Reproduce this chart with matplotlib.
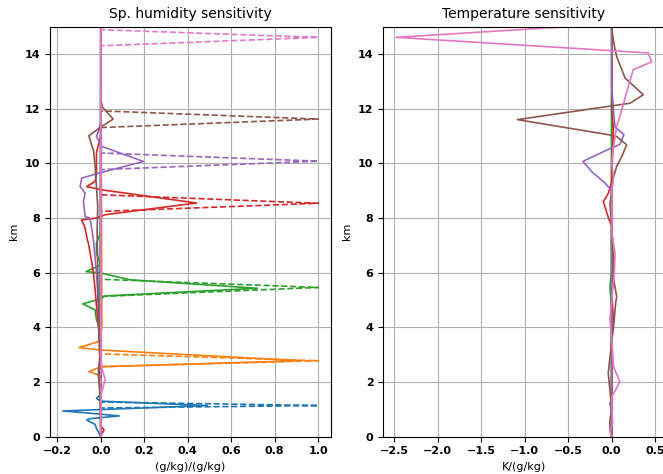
import matplotlib
matplotlib.use("Agg")
import matplotlib.pyplot as plt

# perturbation heights (km): level below, peak level, level above
pert_levels = [
    [1.05, 1.14, 1.27],
    [2.56, 2.78, 3.03],
    [5.13, 5.46, 5.76],
    [8.24, 8.54, 8.85],
    [9.77, 10.08, 10.38],
    [11.31, 11.62, 11.92],
    [14.30, 14.61, 14.89],
]

# humidity response, (g/kg)/(g/kg)
q_z = [
    [0, 0.3, 0.45, 0.61, 0.66, 0.76, 0.86, 0.94, 1.14, 1.30, 1.40, 1.52, 15.1],
    [0, 2.1, 2.26, 2.38, 2.56, 2.78, 3.17, 3.26, 3.48, 3.7, 4.0, 15.1],
    [0, 3.9, 4.27, 4.64, 4.86, 5.05, 5.15, 5.43, 5.74, 5.98, 6.04, 6.29, 6.7, 7.08, 7.5, 15.1],
    [0, 0.12, 0.25, 0.4, 3.0, 4.0, 4.8, 5.37, 6.0, 6.53, 7.08, 7.2, 7.63, 7.93, 8.0, 8.12,
     8.55, 9.03, 9.15, 9.34, 9.64, 10.4, 11.0, 15.1],
    [0, 4.0, 4.76, 6.0, 7.2, 7.57, 8.0, 8.05, 8.6, 8.91, 9.15, 9.46, 9.64, 10.07, 10.62,
     10.98, 11.2, 11.5, 15.1],
    [0, 1.7, 2.3, 2.9, 4.0, 7.5, 8.42, 9.15, 9.89, 10.5, 10.62, 11.01, 11.33, 11.62,
     12.05, 12.33, 15.1],
    [0, 1.5, 1.95, 2.1, 2.5, 3.0, 15.1],
]
q_x = [
    [0, -0.02, -0.026, -0.065, -0.05, 0.085, -0.05, -0.175, 0.49, 0.0, -0.02, -0.005, 0],
    [0, 0, -0.01, -0.055, 0.0, 0.92, 0.0, -0.10, -0.01, 0, 0.005, 0],
    [0, 0, -0.02, -0.026, -0.083, 0.0, 0.02, 0.72, 0.135, 0.005, -0.068, 0.0, -0.02, -0.02, 0, 0],
    [0, 0.005, 0.015, 0, 0, -0.01, -0.02, -0.026, -0.034, -0.045, -0.057, -0.062, -0.072,
     -0.088, -0.02, 0.02, 0.44, 0.005, -0.065, -0.026, -0.02, -0.02, 0, 0],
    [0, 0, -0.01, -0.02, -0.034, -0.041, -0.05, -0.072, -0.08, -0.072, -0.095, -0.088,
     -0.01, 0.196, 0.005, -0.02, -0.01, 0, 0],
    [0, -0.005, -0.012, -0.005, -0.01, -0.017, -0.014, -0.02, -0.026, -0.034, -0.04,
     -0.055, 0, 0.057, 0.008, 0, 0],
    [0, 0, 0.015, 0.02, 0.005, 0, 0],
]

# temperature response, K/(g/kg)
t_z = [
    [0, 1.0, 1.22, 1.4, 15.1],
    [0, 2.8, 15.1],
    [0, 5.0, 5.5, 6.0, 15.1],
    [0, 3.5, 4.27, 5.0, 7.7, 8.03, 8.6, 8.9, 9.3, 10.5, 11.1, 12.0, 15.1],
    [0, 9.0, 9.28, 9.7, 10.07, 10.32, 10.7, 11.05, 11.33, 11.96, 12.8, 15.1],
    [0, 0.3, 0.61, 1.0, 1.7, 2.32, 2.9, 3.5, 4.0, 4.88, 5.13, 5.8, 6.5, 7.7, 8.5, 9.5,
     9.89, 10.01, 10.25, 10.68, 10.98, 11.05, 11.6, 12.2, 12.51, 13.12, 13.91, 14.16,
     14.89, 15.1],
    [0, 0.2, 0.5, 1.0, 1.46, 2.01, 2.56, 3.6, 4.27, 5.0, 6.0, 6.7, 7.5, 9.0, 9.5, 10.0,
     10.6, 11.35, 11.96, 12.82, 13.43, 13.71, 14.04, 14.61, 15.1],
]
t_x = [
    [0, -0.005, -0.02, 0, 0],
    [0, 0.005, 0],
    [0, -0.01, -0.02, -0.005, 0],
    [0, 0, 0.02, 0.005, 0, -0.04, -0.096, -0.04, 0, 0.01, 0.02, 0.005, 0],
    [0, 0.0, -0.077, -0.23, -0.33, -0.17, 0.095, 0.14, 0.038, 0.02, 0, 0],
    [0, -0.02, -0.02, 0.0, -0.02, -0.04, -0.02, 0.0, 0.02, 0.045, 0.057, 0.02, 0.02, 0.0,
     -0.02, 0.02, 0.057, 0.076, 0.115, 0.172, 0.057, -0.04, -1.083, 0.21, 0.363, 0.153,
     0.057, 0.038, 0.0, 0.0],
    [0, -0.02, 0.011, 0.0, 0.0, 0.095, 0.02, 0.0, -0.02, 0.0, 0.03, 0.038, 0.0, 0.0, 0.02,
     0.0, 0.02, 0.057, 0.115, 0.19, 0.248, 0.459, 0.42, -2.477, 0.0],
]

colors = ['C0', 'C1', 'C2', 'C3', 'C4', 'C5', 'C6']

fig = plt.figure(figsize=(6.63, 4.74), dpi=100)
ax1 = fig.add_axes([0.0754, 0.0787, 0.4238, 0.865])
ax2 = fig.add_axes([0.5781, 0.0787, 0.4241, 0.865])

for i in range(len(colors)):
    lo, pk, hi = pert_levels[i]
    ax1.plot(q_x[i], q_z[i], color=colors[i], lw=1.2)
    ax1.plot([0, 0, 1, 0, 0], [0, lo, pk, hi, 15.1], color=colors[i], lw=1.2, ls='--')
    ax2.plot(t_x[i], t_z[i], color=colors[i], lw=1.2)

ax1.set_title('Sp. humidity sensitivity', fontsize=10)
ax1.set_xlabel('(g/kg)/(g/kg)', fontsize=8)
ax2.set_title('Temperature sensitivity', fontsize=10)
ax2.set_xlabel('K/(g/kg)', fontsize=8)

for ax in [ax1, ax2]:
    ax.set_ylim(0, 15)
    ax.set_ylabel('km', fontsize=8)
    ax.grid(True, color='#b0b0b0', lw=0.8)
    for lab in ax.get_xticklabels() + ax.get_yticklabels():
        lab.set_fontweight('bold')
        lab.set_fontsize(8)

ax1.set_xticks([-0.2, 0.0, 0.2, 0.4, 0.6, 0.8, 1.0])
ax2.set_xticks([-2.5, -2.0, -1.5, -1.0, -0.5, 0.0, 0.5])
for ax in [ax1, ax2]:
    ax.set_yticks([0, 2, 4, 6, 8, 10, 12, 14])
    for lab in ax.get_xticklabels() + ax.get_yticklabels():
        lab.set_fontweight('bold')
        lab.set_fontsize(8)

fig.savefig('out.png', dpi=100)
